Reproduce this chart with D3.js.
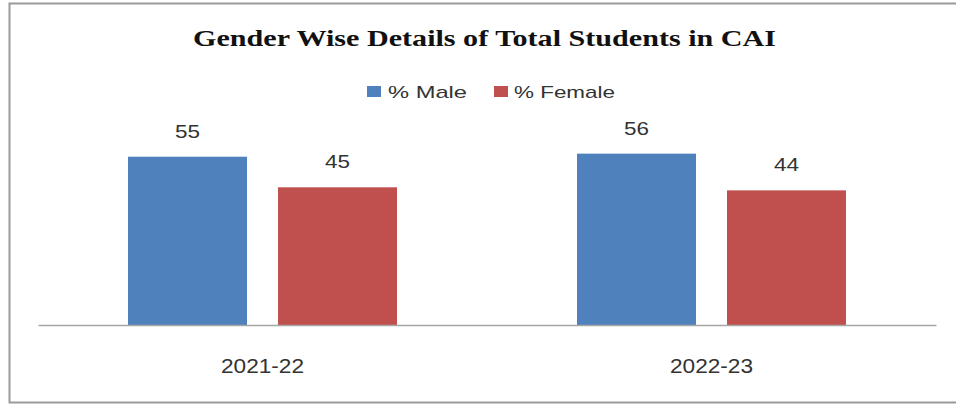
<!DOCTYPE html>
<html>
<head>
<meta charset="utf-8">
<script src="https://cdn.jsdelivr.net/npm/d3@7"></script>
<style>
  html, body { margin: 0; padding: 0; background: #fff; }
  svg { display: block; }
</style>
</head>
<body>
<svg id="chart" width="956" height="406"></svg>
<script>
const categories = ["2021-22", "2022-23"];
const seriesNames = ["% Male", "% Female"];
const maleValues = [55, 56];
const femaleValues = [45, 44];
const colors = ["#4F81BD", "#C0504D"];
const titleText = "Gender Wise Details of Total Students in CAI";

const seriesValues = [maleValues, femaleValues];
const svg = d3.select("#chart");

// outer frame (right edge falls outside the picture)
svg.append("rect")
  .attr("x", 9.5).attr("y", 3.5)
  .attr("width", 960).attr("height", 399)
  .attr("fill", "#fff")
  .attr("stroke", "#9a9a9a").attr("stroke-width", 2);

const x0 = d3.scaleBand().domain(categories).range([38, 936]).paddingInner(0).paddingOuter(0);
const x1 = d3.scaleBand().domain(seriesNames).range([0, x0.bandwidth()])
  .paddingInner(0.2067).paddingOuter(0.6);
const y = d3.scaleLinear().domain([0, 60]).range([325, 141.4]);

// title
svg.append("text")
  .attr("x", 484.5).attr("y", 46)
  .attr("text-anchor", "middle")
  .attr("font-family", "'Liberation Serif', 'DejaVu Serif', serif")
  .attr("font-weight", "bold")
  .attr("font-size", 23)
  .attr("fill", "#111")
  .attr("textLength", 583).attr("lengthAdjust", "spacingAndGlyphs")
  .text(titleText);

// legend
const legendPos = [{sx: 367, tx: 388, tl: 79}, {sx: 494, tx: 514, tl: 101}];
const legend = svg.append("g");
seriesNames.forEach((s, i) => {
  legend.append("rect")
    .attr("x", legendPos[i].sx).attr("y", 86)
    .attr("width", 14).attr("height", 11)
    .attr("fill", colors[i]);
  legend.append("text")
    .attr("x", legendPos[i].tx).attr("y", 98)
    .attr("font-family", "'Liberation Sans', Arial, sans-serif")
    .attr("font-size", 17)
    .attr("fill", "#333")
    .attr("textLength", legendPos[i].tl).attr("lengthAdjust", "spacingAndGlyphs")
    .text(s);
});

// bars
const groups = svg.selectAll("g.cat").data(categories).join("g")
  .attr("class", "cat")
  .attr("transform", d => `translate(${x0(d)},0)`);

groups.each(function(cat, ci) {
  const g = d3.select(this);
  seriesNames.forEach((s, si) => {
    const v = seriesValues[si][ci];
    g.append("rect")
      .attr("x", x1(s)).attr("y", y(v))
      .attr("width", x1.bandwidth()).attr("height", y(0) - y(v))
      .attr("fill", colors[si]);
    g.append("text")
      .attr("x", x1(s) + x1.bandwidth() / 2)
      .attr("y", y(v) - 19)
      .attr("text-anchor", "middle")
      .attr("font-family", "'Liberation Sans', Arial, sans-serif")
      .attr("font-size", 19)
      .attr("fill", "#333")
      .attr("textLength", 25).attr("lengthAdjust", "spacingAndGlyphs")
      .text(v);
  });
});

// baseline axis
const xAxis = d3.axisBottom(x0).tickSize(0).tickPadding(0);
const axisG = svg.append("g").attr("transform", `translate(0,${y(0)})`).call(xAxis);
axisG.select(".domain").attr("stroke", "#a6a6a6").attr("stroke-width", 1.5);
axisG.selectAll(".tick text")
  .attr("y", 48)
  .attr("dy", 0)
  .attr("font-family", "'Liberation Sans', Arial, sans-serif")
  .attr("font-size", 20)
  .attr("fill", "#333")
  .attr("textLength", 83).attr("lengthAdjust", "spacingAndGlyphs");
</script>
</body>
</html>
